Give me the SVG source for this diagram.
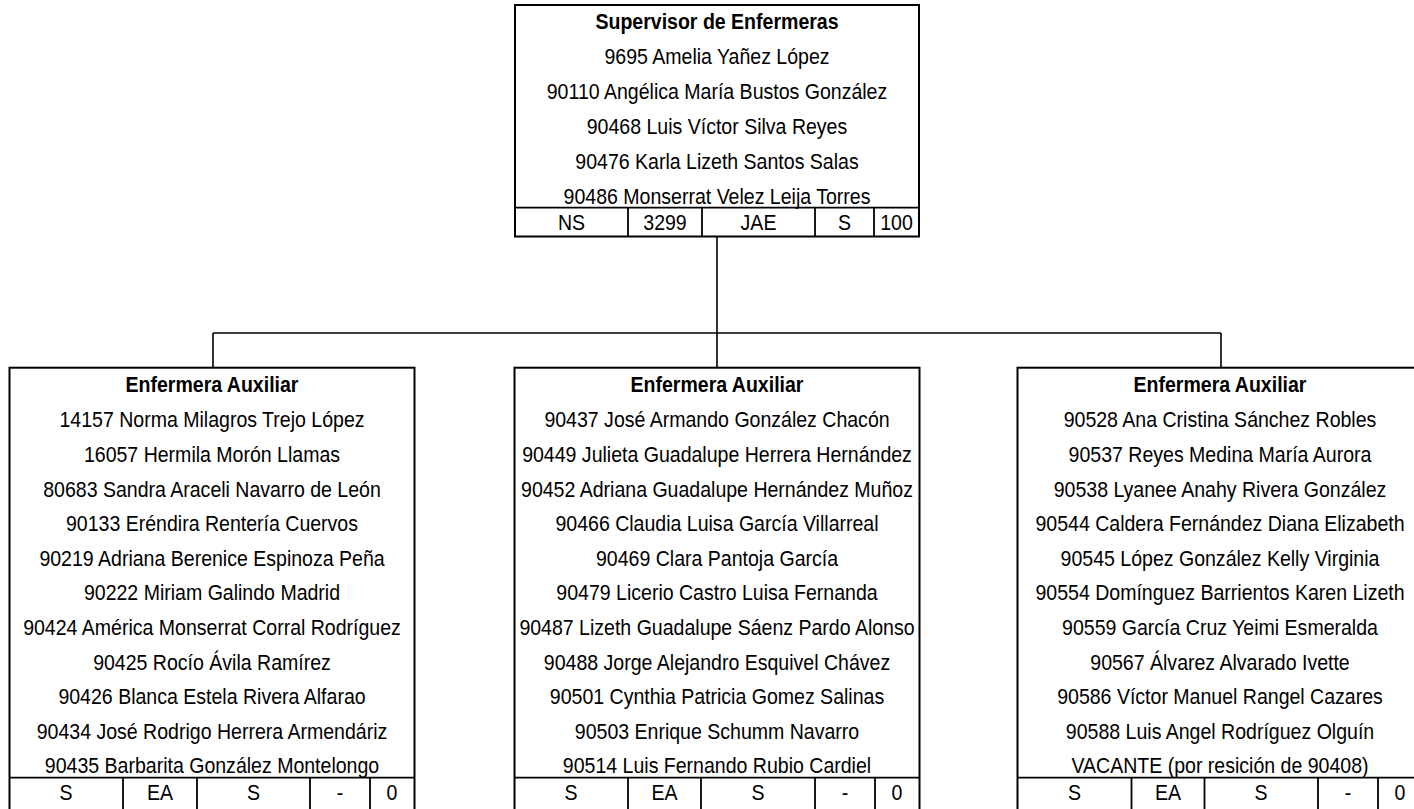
<svg xmlns="http://www.w3.org/2000/svg" width="1414" height="809" viewBox="0 0 1414 809">
<style>
.bg{fill:#fff}
.box{fill:#fff;stroke:#000;stroke-width:2}
.sep{stroke:#000;stroke-width:1.8;fill:none}
.conn{stroke:#000;stroke-width:1.6;fill:none}
text{font-family:"Liberation Sans",Arial,sans-serif;font-size:21.6px;fill:#000;text-anchor:middle}
.t{font-weight:bold}
</style>
<rect class="bg" x="0" y="0" width="1414" height="809"/>
<g id="connectors">
<path class="conn" d="M717 236 V333 M213 333 H1221 M213 333 V368 M717 333 V368 M1221 333 V368"/>
</g>
<g id="supervisor">
<rect class="box" x="515" y="5" width="404" height="231.5"/>
<path class="sep" d="M515 207.7 H919 M628 207.7 V236 M702 207.7 V236 M815 207.7 V236 M874 207.7 V236"/>
<g transform="translate(717 0) scale(0.905 1)">
<text class="t" x="0" y="29.5">Supervisor de Enfermeras</text>
<text x="0" y="64">9695 Amelia Yañez López</text>
<text x="0" y="98.9">90110 Angélica María Bustos González</text>
<text x="0" y="133.8">90468 Luis Víctor Silva Reyes</text>
<text x="0" y="168.7">90476 Karla Lizeth Santos Salas</text>
<text x="0" y="203.8">90486 Monserrat Velez Leija Torres</text>
</g>
<text transform="translate(571.5 230) scale(0.905 1)">NS</text>
<text transform="translate(665 230) scale(0.905 1)">3299</text>
<text transform="translate(758.5 230) scale(0.905 1)">JAE</text>
<text transform="translate(844.5 230) scale(0.905 1)">S</text>
<text transform="translate(896.5 230) scale(0.905 1)">100</text>
</g>
<g id="aux1">
<rect class="box" x="9.5" y="367.7" width="405" height="446"/>
<path class="sep" d="M9.5 777.7 H414.5 M123 777.7 V812 M197 777.7 V812 M310 777.7 V812 M370 777.7 V812"/>
<g transform="translate(212 0) scale(0.905 1)">
<text class="t" x="0" y="392">Enfermera Auxiliar</text>
<text x="0" y="427.5">14157 Norma Milagros Trejo López</text>
<text x="0" y="462.1">16057 Hermila Morón Llamas</text>
<text x="0" y="496.7">80683 Sandra Araceli Navarro de León</text>
<text x="0" y="531.2">90133 Eréndira Rentería Cuervos</text>
<text x="0" y="565.8">90219 Adriana Berenice Espinoza Peña</text>
<text x="0" y="600.4">90222 Miriam Galindo Madrid</text>
<text x="0" y="635">90424 América Monserrat Corral Rodríguez</text>
<text x="0" y="669.6">90425 Rocío Ávila Ramírez</text>
<text x="0" y="704.1">90426 Blanca Estela Rivera Alfarao</text>
<text x="0" y="738.7">90434 José Rodrigo Herrera Armendáriz</text>
<text x="0" y="773.5">90435 Barbarita González Montelongo</text>
</g>
<text transform="translate(66 800) scale(0.905 1)">S</text>
<text transform="translate(160 800) scale(0.905 1)">EA</text>
<text transform="translate(253.5 800) scale(0.905 1)">S</text>
<text transform="translate(340 800) scale(0.905 1)">-</text>
<text transform="translate(392 800) scale(0.905 1)">0</text>
</g>
<g id="aux2">
<rect class="box" x="514.5" y="367.7" width="405" height="446"/>
<path class="sep" d="M514.5 777.7 H919.5 M628 777.7 V812 M701 777.7 V812 M815 777.7 V812 M875 777.7 V812"/>
<g transform="translate(717 0) scale(0.905 1)">
<text class="t" x="0" y="392">Enfermera Auxiliar</text>
<text x="0" y="427.5">90437 José Armando González Chacón</text>
<text x="0" y="462.1">90449 Julieta Guadalupe Herrera Hernández</text>
<text x="0" y="496.7">90452 Adriana Guadalupe Hernández Muñoz</text>
<text x="0" y="531.2">90466 Claudia Luisa García Villarreal</text>
<text x="0" y="565.8">90469 Clara Pantoja García</text>
<text x="0" y="600.4">90479 Licerio Castro Luisa Fernanda</text>
<text x="0" y="635">90487 Lizeth Guadalupe Sáenz Pardo Alonso</text>
<text x="0" y="669.6">90488 Jorge Alejandro Esquivel Chávez</text>
<text x="0" y="704.1">90501 Cynthia Patricia Gomez Salinas</text>
<text x="0" y="738.7">90503 Enrique Schumm Navarro</text>
<text x="0" y="773.5">90514 Luis Fernando Rubio Cardiel</text>
</g>
<text transform="translate(571 800) scale(0.905 1)">S</text>
<text transform="translate(664.5 800) scale(0.905 1)">EA</text>
<text transform="translate(758 800) scale(0.905 1)">S</text>
<text transform="translate(845 800) scale(0.905 1)">-</text>
<text transform="translate(897 800) scale(0.905 1)">0</text>
</g>
<g id="aux3">
<rect class="box" x="1017.5" y="367.7" width="405" height="446"/>
<path class="sep" d="M1017.5 777.7 H1422.5 M1131.5 777.7 V812 M1204.5 777.7 V812 M1318 777.7 V812 M1378 777.7 V812"/>
<g transform="translate(1220 0) scale(0.905 1)">
<text class="t" x="0" y="392">Enfermera Auxiliar</text>
<text x="0" y="427.5">90528 Ana Cristina Sánchez Robles</text>
<text x="0" y="462.1">90537 Reyes Medina María Aurora</text>
<text x="0" y="496.7">90538 Lyanee Anahy Rivera González</text>
<text x="0" y="531.2">90544 Caldera Fernández Diana Elizabeth</text>
<text x="0" y="565.8">90545 López González Kelly Virginia</text>
<text x="0" y="600.4">90554 Domínguez Barrientos Karen Lizeth</text>
<text x="0" y="635">90559 García Cruz Yeimi Esmeralda</text>
<text x="0" y="669.6">90567 Álvarez Alvarado Ivette</text>
<text x="0" y="704.1">90586 Víctor Manuel Rangel Cazares</text>
<text x="0" y="738.7">90588 Luis Angel Rodríguez Olguín</text>
<text x="0" y="773.5">VACANTE (por resición de 90408)</text>
</g>
<text transform="translate(1074.5 800) scale(0.905 1)">S</text>
<text transform="translate(1168 800) scale(0.905 1)">EA</text>
<text transform="translate(1261 800) scale(0.905 1)">S</text>
<text transform="translate(1348 800) scale(0.905 1)">-</text>
<text transform="translate(1400 800) scale(0.905 1)">0</text>
</g>
</svg>
